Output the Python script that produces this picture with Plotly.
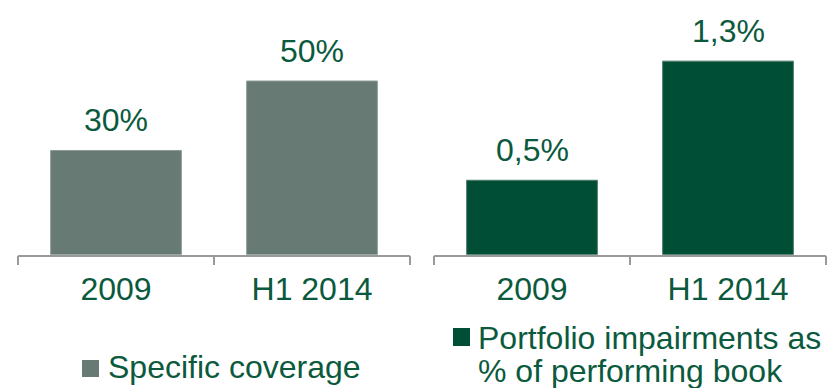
import plotly.graph_objects as go

# Chart data
categories = ["2009", "H1 2014"]
specific_coverage = [30, 50]          # %
portfolio_impairments = [0.5, 1.3]    # % of performing book
legend_names = ["Specific coverage", ["Portfolio impairments as", "% of performing book"]]

W, H = 837, 388
TEXT = "#0B5A3D"
GREY_BAR = "#677A74"
DARK_BAR = "#004E36"
AXIS = "#9A9A9A"
FONT = "Liberation Sans, Arial, sans-serif"


def px(x):
    return x / W


def py(y):
    return 1 - y / H


def pct(v):
    return f"{v:g}%".replace(".", ",")


fig = go.Figure()
fig.add_trace(go.Bar(x=categories, y=specific_coverage, marker=dict(color=GREY_BAR, line=dict(color="#8E9C97", width=1)),
                     xaxis="x", yaxis="y", showlegend=False, hoverinfo="skip"))
fig.add_trace(go.Bar(x=categories, y=portfolio_impairments, marker=dict(color=DARK_BAR, line=dict(color="#4E7E6A", width=1)),
                     xaxis="x2", yaxis="y2", showlegend=False, hoverinfo="skip"))

annotations = []
for xr, yr, vals in (("x", "y", specific_coverage), ("x2", "y2", portfolio_impairments)):
    # category positions on a category axis are their indices
    for i, v in enumerate(vals):
        annotations.append(dict(x=i, y=v, xref=xr, yref=yr, text=pct(v), showarrow=False,
                                yanchor="bottom", yshift=10, font=dict(size=32, color=TEXT, family=FONT)))

# Legend entries
annotations.append(dict(x=px(106), y=py(367), xref="paper", yref="paper", text=legend_names[0],
                        showarrow=False, xanchor="left", yanchor="middle",
                        font=dict(size=32, color=TEXT, family=FONT)))
for i, line in enumerate(legend_names[1]):
    annotations.append(dict(x=px(476), y=py(338 + 33 * i), xref="paper", yref="paper", text=line,
                            showarrow=False, xanchor="left", yanchor="middle",
                            font=dict(size=32, color=TEXT, family=FONT)))

shapes = [
    dict(type="rect", xref="paper", yref="paper", x0=px(82), x1=px(99), y0=py(377), y1=py(360),
         fillcolor=GREY_BAR, line=dict(width=0)),
    dict(type="rect", xref="paper", yref="paper", x0=px(453), x1=px(470), y0=py(346), y1=py(328),
         fillcolor=DARK_BAR, line=dict(width=0)),
]

base = py(254.7)
xcommon = dict(type="category", range=[-0.5, 1.5], showline=True, linecolor=AXIS, linewidth=1.5,
               ticks="outside", tickson="boundaries", ticklen=9, tickwidth=1.5, tickcolor=AXIS,
               tickfont=dict(size=32, color=TEXT, family=FONT), ticklabelstandoff=5,
               showgrid=False, zeroline=False, fixedrange=True)
fig.update_layout(
    width=W, height=H,
    margin=dict(l=0, r=0, t=0, b=0),
    paper_bgcolor="white", plot_bgcolor="white",
    bargap=0.333,
    xaxis=dict(domain=[px(18), px(410)], anchor="y", **xcommon),
    xaxis2=dict(domain=[px(434), px(826)], anchor="y2", **xcommon),
    yaxis=dict(domain=[base, 1], range=[0, 254.7 / 3.474], visible=False, fixedrange=True),
    yaxis2=dict(domain=[base, 1], range=[0, 254.7 / 148.9], visible=False, fixedrange=True),
    annotations=annotations,
    shapes=shapes,
    font=dict(family=FONT),
)

fig.write_html("out.html")
